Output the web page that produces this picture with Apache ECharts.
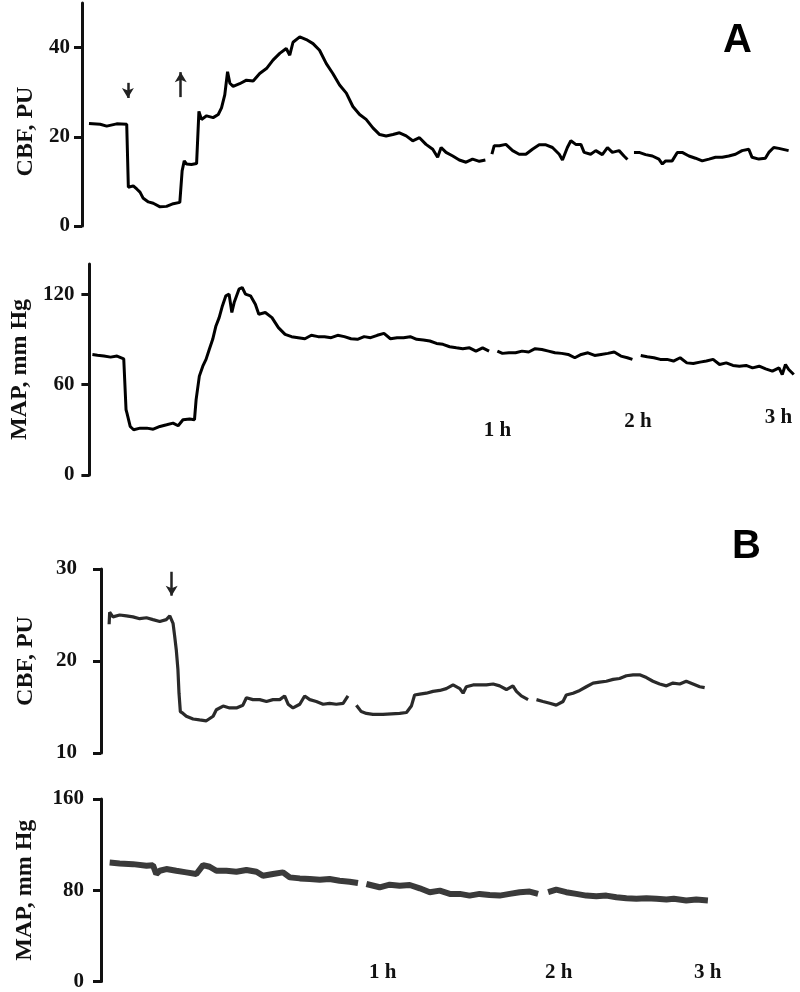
<!DOCTYPE html>
<html>
<head>
<meta charset="utf-8">
<script src="https://cdn.jsdelivr.net/npm/echarts@6/dist/echarts.min.js"></script>
<style>
  html, body { margin: 0; padding: 0; background: #fff; }
  #main { width: 800px; height: 992px; }
</style>
</head>
<body>
<div id="main"></div>
<script>
// time in minutes ('-' = gap in recording)
const cbfA = [
  [-114.0, 23.0], [-109.2, 22.8], [-106.4, 22.4], [-102.1, 22.9], [-97.8, 22.8], [-97.4, 22.5],
  [-97.1, 8.7], [-95.0, 9.0], [-93.5, 8.3], [-92.1, 7.6], [-90.7, 6.2], [-88.5, 5.4], [-86.4, 5.1],
  [-83.5, 4.3], [-80.7, 4.4], [-77.8, 5.0], [-75.0, 5.3], [-74.3, 5.5],
  [-74.0, 12.4], [-73.1, 14.6], [-72.1, 13.9], [-70.0, 13.8], [-67.8, 14.0], [-67.2, 14.2],
  [-66.8, 25.7], [-65.7, 23.9], [-63.5, 24.7], [-60.7, 24.3], [-58.5, 25.0], [-57.1, 26.5],
  [-55.7, 29.4], [-54.5, 34.6], [-53.5, 32.0], [-52.1, 31.3], [-49.3, 31.9], [-46.4, 32.7],
  [-43.5, 32.5], [-40.7, 34.2], [-37.8, 35.3], [-35.0, 37.2], [-32.1, 38.7], [-29.3, 39.8],
  [-27.8, 38.3], [-26.4, 41.2], [-23.5, 42.4], [-20.7, 41.8], [-17.8, 40.9], [-15.0, 39.4],
  [-12.1, 36.4], [-9.3, 34.2], [-6.4, 31.6], [-3.5, 29.8], [-0.7, 26.8], [2.2, 25.0], [5.0, 23.9],
  [7.9, 22.0], [10.8, 20.5], [13.6, 20.2], [16.5, 20.5], [19.3, 20.9], [22.2, 20.2], [25.0, 19.1],
  [27.9, 19.8], [30.7, 18.3], [33.6, 17.2], [35.7, 15.4], [37.2, 17.6], [39.3, 16.5], [42.2, 15.7],
  [45.0, 14.8], [47.9, 14.3], [50.7, 15.0], [53.6, 14.5], [56.2, 14.8],
  [57.5, '-'],
  [59.0, 16.1], [60.0, 18.0], [62.2, 18.0], [65.0, 18.3], [67.9, 16.9], [70.7, 16.1], [73.6, 16.1],
  [76.4, 17.2], [79.3, 18.2], [82.2, 18.2], [85.0, 17.6], [87.9, 16.1], [89.3, 14.8], [91.4, 17.6],
  [92.9, 19.1], [95.0, 18.3], [97.2, 18.3], [98.6, 16.5], [101.4, 16.1], [103.6, 16.9], [106.4, 16.0],
  [108.6, 17.6], [110.7, 16.5], [113.6, 16.9], [115.7, 15.7], [117.2, 14.9],
  [118.6, '-'],
  [120.0, 16.5], [122.2, 16.5], [125.0, 16.0], [127.9, 15.7], [130.7, 15.0], [132.2, 13.9],
  [133.6, 14.6], [136.4, 14.6], [138.6, 16.5], [140.7, 16.5], [143.6, 15.7], [146.4, 15.2],
  [149.3, 14.6], [152.2, 15.0], [155.0, 15.4], [157.9, 15.4], [160.7, 15.7], [163.6, 16.1],
  [166.4, 16.9], [169.3, 17.2], [170.7, 15.4], [173.6, 15.0], [176.4, 15.2], [177.9, 16.5],
  [180.0, 17.6], [182.2, 17.4], [186.4, 16.9]
];

const mapA = [
  [-115.7, 80.0], [-113.5, 79.5], [-110.7, 78.9], [-107.8, 78.2], [-105.0, 78.9], [-102.1, 77.1],
  [-101.4, 76.0], [-101.1, 43.3], [-100.7, 41.1], [-99.3, 32.2], [-97.8, 30.0], [-95.0, 31.1],
  [-92.1, 31.1], [-89.3, 30.4], [-86.4, 32.2], [-83.5, 33.3], [-80.7, 34.4], [-78.5, 32.7],
  [-76.4, 36.7], [-73.5, 37.1], [-71.4, 36.7], [-70.7, 50.0], [-69.3, 65.6], [-67.8, 72.2],
  [-66.4, 76.7], [-65.0, 83.3], [-63.5, 90.0], [-62.1, 98.9], [-60.7, 104.4], [-59.3, 112.2],
  [-57.8, 118.9], [-56.4, 120.0], [-55.2, 107.8], [-54.2, 114.4], [-52.1, 123.3], [-50.7, 124.4],
  [-49.3, 120.0], [-47.1, 118.9], [-45.0, 113.3], [-43.5, 106.7], [-40.7, 107.8], [-37.8, 104.4],
  [-35.0, 97.8], [-32.1, 93.3], [-29.3, 91.8], [-26.4, 91.1], [-23.5, 90.4], [-20.7, 92.7],
  [-17.8, 91.8], [-15.0, 91.8], [-12.1, 91.1], [-9.3, 92.7], [-6.4, 91.8], [-3.5, 90.4],
  [-0.7, 90.0], [2.2, 91.8], [5.0, 91.1], [7.9, 92.7], [10.8, 94.0], [13.6, 90.4], [16.5, 91.1],
  [19.3, 91.1], [22.2, 91.8], [25.0, 90.0], [27.9, 89.6], [30.7, 88.9], [33.6, 87.3], [36.4, 86.7],
  [39.3, 85.1], [42.2, 84.4], [45.0, 83.8], [47.9, 84.4], [50.7, 82.2], [53.6, 84.4], [56.4, 82.2],
  [58.2, '-'],
  [60.0, 82.2], [62.2, 80.7], [65.0, 81.1], [67.9, 81.1], [70.7, 82.2], [73.6, 81.6], [76.4, 83.8],
  [79.3, 83.3], [82.2, 82.2], [85.0, 81.1], [87.9, 80.7], [90.7, 80.0], [93.6, 77.8], [96.4, 80.0],
  [99.3, 81.1], [102.2, 79.3], [105.0, 80.0], [107.9, 80.7], [110.7, 81.6], [113.6, 78.9],
  [116.4, 77.8], [118.6, 76.7],
  [120.4, '-'],
  [122.2, 79.3], [125.0, 78.4], [127.9, 77.8], [130.7, 76.7], [133.6, 76.7], [136.4, 75.6],
  [139.3, 77.8], [142.2, 74.4], [145.0, 74.0], [147.9, 74.9], [150.7, 75.6], [153.6, 76.7],
  [156.4, 73.3], [159.3, 74.4], [162.2, 72.7], [165.0, 72.2], [167.9, 72.7], [170.7, 71.1],
  [173.6, 72.2], [176.4, 70.4], [179.3, 68.9], [182.2, 71.1], [183.6, 66.7], [185.0, 73.3],
  [186.4, 70.0], [188.6, 66.7]
];

const cbfB = [
  [-41.0, 24.0], [-40.8, 25.3], [-39.6, 24.8], [-37.1, 25.0], [-34.6, 24.9], [-32.2, 24.8],
  [-29.7, 24.6], [-27.2, 24.7], [-24.8, 24.5], [-22.3, 24.3], [-19.9, 24.5], [-18.6, 24.9],
  [-17.4, 24.1], [-16.8, 22.7], [-16.2, 21.2], [-15.6, 19.1], [-15.2, 16.5], [-14.7, 14.5],
  [-13.7, 14.3], [-12.5, 14.0], [-10.0, 13.7], [-7.6, 13.6], [-5.1, 13.5], [-2.6, 14.0],
  [-1.4, 14.7], [1.1, 15.1], [3.5, 14.9], [6.0, 14.9], [8.4, 15.2], [9.7, 16.0], [12.1, 15.8],
  [14.6, 15.8], [17.1, 15.6], [19.5, 15.8], [22.0, 15.8], [23.8, 16.2], [25.1, 15.3], [26.9, 14.9],
  [29.4, 15.3], [31.2, 16.2], [33.1, 15.8], [35.5, 15.6], [38.0, 15.3], [40.4, 15.4], [42.9, 15.3],
  [45.4, 15.4], [47.2, 16.2],
  [48.8, '-'],
  [50.3, 15.2], [52.1, 14.5], [54.0, 14.3], [56.4, 14.2], [60.1, 14.2], [66.3, 14.3], [68.8, 14.4],
  [70.6, 15.1], [71.8, 16.3], [73.7, 16.4], [76.1, 16.5], [78.6, 16.7], [81.1, 16.8], [83.5, 17.0],
  [86.0, 17.4], [88.5, 17.0], [89.7, 16.5], [90.9, 17.2], [93.4, 17.4], [95.8, 17.4], [98.3, 17.4],
  [100.8, 17.5], [103.2, 17.3], [105.7, 16.9], [108.1, 17.3], [109.4, 16.7], [111.2, 16.2],
  [113.7, 15.8],
  [115.2, '-'],
  [116.8, 15.8], [119.2, 15.6], [121.7, 15.4], [124.1, 15.2], [126.6, 15.6], [127.8, 16.3],
  [130.3, 16.5], [132.8, 16.8], [135.2, 17.2], [137.7, 17.6], [140.1, 17.7], [142.6, 17.8],
  [145.1, 18.0], [147.5, 18.1], [150.0, 18.4], [152.5, 18.5], [154.9, 18.5], [157.4, 18.2],
  [159.8, 17.8], [162.3, 17.5], [164.8, 17.3], [167.2, 17.6], [169.7, 17.5], [172.1, 17.8],
  [174.6, 17.5], [177.1, 17.2], [178.9, 17.1]
];

const mapB = [
  [-40.8, 104.3], [-37.1, 103.5], [-32.2, 102.9], [-27.2, 101.4], [-24.8, 102.0], [-23.6, 94.2],
  [-22.3, 97.1], [-19.9, 98.6], [-16.2, 97.1], [-12.5, 95.7], [-8.8, 94.2], [-6.3, 102.0],
  [-3.9, 100.6], [-1.4, 97.1], [2.3, 97.1], [6.0, 96.2], [9.7, 97.8], [13.4, 96.2], [15.8, 92.7],
  [19.5, 94.2], [23.2, 95.7], [25.7, 91.3], [29.4, 90.4], [33.1, 89.8], [36.8, 89.2], [40.4, 89.8],
  [44.1, 88.4], [47.8, 87.5], [50.9, 86.3],
  [52.4, '-'],
  [54.0, 85.5], [58.9, 82.6], [62.6, 84.9], [66.3, 84.0], [70.0, 84.6], [73.7, 81.7], [77.4, 78.3],
  [81.1, 79.7], [84.8, 76.8], [88.5, 76.8], [92.1, 75.3], [95.8, 76.8], [99.5, 75.9], [103.2, 75.3],
  [106.9, 76.8], [110.6, 78.3], [114.3, 78.8], [117.4, 76.8],
  [119.2, '-'],
  [121.1, 78.3], [124.1, 80.5], [127.8, 78.3], [131.5, 76.8], [135.2, 75.3], [138.9, 74.8],
  [142.6, 75.3], [146.3, 73.9], [150.0, 73.0], [153.7, 72.5], [157.4, 73.0], [161.1, 72.5],
  [164.8, 71.8], [167.5, 72.5], [172.1, 71.0], [175.8, 71.8], [180.1, 71.0]
];

// tick labels
const cbfTicksA = [0, 20, 40];
const mapTicksA = [0, 60, 120];
const cbfTicksB = [10, 20, 30];
const mapTicksB = [0, 80, 160];
const hourLabels = ['1 h', '2 h', '3 h'];
const hourPosA = [60, 121, 182];
const hourPosB = [60, 125, 180];

// arrows: [time, from, to]
const arrowsA = [[-97.3, 32.1, 28.7], [-74.6, 28.9, 34.5]];
const arrowsB = [[-17.9, 29.7, 27.1]];

const serif = 'Liberation Serif, Times New Roman, serif';
const ink = '#111';

function yAx(gridIndex, min, max, ticks, name, nameGap, labelMargin, namePad) {
  return {
    type: 'value', gridIndex, min, max, position: 'left',
    name, nameLocation: 'middle', nameGap, nameRotate: 90,
    nameTextStyle: { fontFamily: serif, fontWeight: 'bold', fontSize: 24, color: ink, padding: namePad || 0 },
    axisLine: { show: true, onZero: false, lineStyle: { color: ink, width: 3 } },
    axisTick: { show: true, length: 8, customValues: ticks, lineStyle: { color: ink, width: 3 } },
    axisLabel: { customValues: ticks, margin: labelMargin, fontFamily: serif, fontWeight: 'bold', fontSize: 21, color: ink },
    splitLine: { show: false }
  };
}

function xAx(gridIndex, min, max, hourPos, margin, rich) {
  const ax = {
    type: 'value', gridIndex, min, max,
    axisLine: { show: false, onZero: false }, axisTick: { show: false }, splitLine: { show: false },
    axisLabel: { show: false }
  };
  if (hourPos) {
    ax.axisLabel = {
      show: true, customValues: hourPos, margin, verticalAlign: 'top',
      fontFamily: serif, fontWeight: 'bold', fontSize: 21, color: ink,
      formatter: function (v) {
        const i = hourPos.indexOf(v);
        return i < 0 ? '' : '{h' + i + '|' + hourLabels[i] + '}';
      },
      rich
    };
  }
  return ax;
}

function arrowLines(arr, color) {
  return {
    silent: true, symbol: ['none', 'arrow'], symbolSize: [9, 10],
    label: { show: false },
    lineStyle: { color, width: 2.5, type: 'solid' },
    data: arr.map(a => [{ coord: [a[0], a[1]] }, { coord: [a[0], a[2]] }])
  };
}

const hourRichA = {
  h0: { padding: [13, 0, 0, 0], fontFamily: serif, fontWeight: 'bold', fontSize: 21, color: ink },
  h1: { padding: [4, 0, 0, 0], fontFamily: serif, fontWeight: 'bold', fontSize: 21, color: ink },
  h2: { padding: [0, 0, 0, 0], fontFamily: serif, fontWeight: 'bold', fontSize: 21, color: ink }
};
const hourRichB = {
  h0: { fontFamily: serif, fontWeight: 'bold', fontSize: 21, color: ink },
  h1: { fontFamily: serif, fontWeight: 'bold', fontSize: 21, color: ink },
  h2: { fontFamily: serif, fontWeight: 'bold', fontSize: 21, color: ink }
};

const option = {
  backgroundColor: '#fff',
  animation: false,
  title: [
    { text: 'A', left: 718, top: 16, textStyle: { fontFamily: 'Liberation Sans, Arial, sans-serif', fontWeight: 'bold', fontSize: 40, color: '#000' } },
    { text: 'B', left: 727, top: 522, textStyle: { fontFamily: 'Liberation Sans, Arial, sans-serif', fontWeight: 'bold', fontSize: 40, color: '#000' } }
  ],
  grid: [
    { left: 82, top: 3, width: 715, height: 223 },
    { left: 82, top: 264, width: 715, height: 211 },
    { left: 101, top: 569, width: 696, height: 184 },
    { left: 101, top: 799, width: 696, height: 184 }
  ],
  xAxis: [
    xAx(0, -117, 190),
    xAx(1, -117, 190, hourPosA, -68, hourRichA),
    xAx(2, -44, 213),
    xAx(3, -44, 213, hourPosB, -19, hourRichB)
  ],
  yAxis: [
    yAx(0, 0, 50, cbfTicksA, 'CBF, PU', 44, 12, [0, 34, 0, 0]),
    yAx(1, 0, 140, mapTicksA, 'MAP, mm Hg', 51, 15),
    yAx(2, 10, 30, cbfTicksB, 'CBF, PU', 63, 24),
    yAx(3, 0, 160, mapTicksB, 'MAP, mm Hg', 64, 17)
  ],
  series: [
    { type: 'line', xAxisIndex: 0, yAxisIndex: 0, data: cbfA, showSymbol: false, connectNulls: false,
      lineStyle: { color: '#000', width: 3 }, markLine: arrowLines(arrowsA, '#222') },
    { type: 'line', xAxisIndex: 1, yAxisIndex: 1, data: mapA, showSymbol: false, connectNulls: false,
      lineStyle: { color: '#000', width: 3 } },
    { type: 'line', xAxisIndex: 2, yAxisIndex: 2, data: cbfB, showSymbol: false, connectNulls: false,
      lineStyle: { color: '#2a2a2a', width: 3.2 }, markLine: arrowLines(arrowsB, '#222') },
    { type: 'line', xAxisIndex: 3, yAxisIndex: 3, data: mapB, showSymbol: false, connectNulls: false,
      lineStyle: { color: '#3a3a3a', width: 6 } }
  ]
};

const chart = echarts.init(document.getElementById('main'));
chart.setOption(option);
</script>
</body>
</html>
